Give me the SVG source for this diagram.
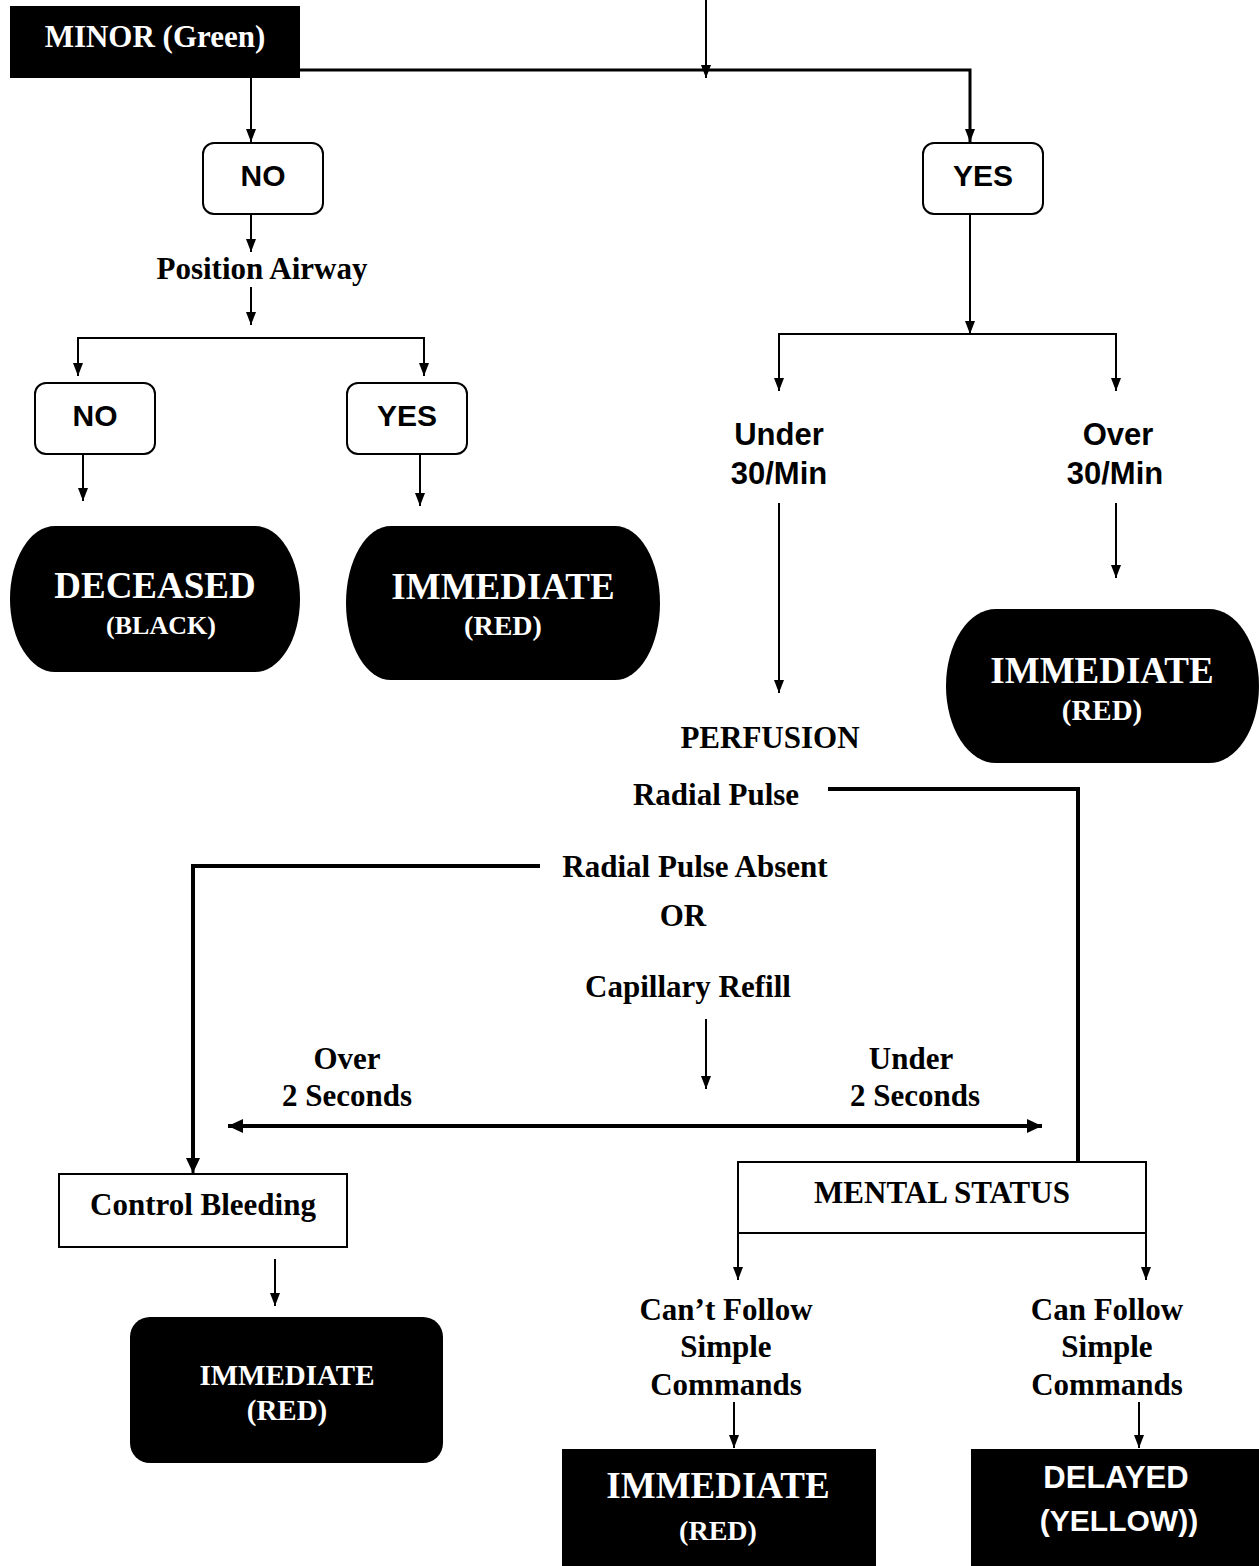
<svg xmlns="http://www.w3.org/2000/svg" width="1259" height="1566" viewBox="0 0 1259 1566">
<style>
.serif{font-family:"Liberation Serif","Times New Roman",serif;font-weight:bold;text-anchor:middle}
.sans{font-family:"Liberation Sans",Arial,sans-serif;font-weight:bold;text-anchor:middle}
.w{fill:#fff}
.k{fill:#000}
.box{fill:#fff;stroke:#000;stroke-width:2}
.blk{fill:#000;stroke:none}
.ln{fill:none;stroke:#000;stroke-width:2}
.thick{fill:none;stroke:#000;stroke-width:4}
</style>
<defs>
<marker id="ah" markerUnits="userSpaceOnUse" viewBox="0 0 13 10" markerWidth="13" markerHeight="10" refX="13" refY="5" orient="auto">
<path d="M0,0 L13,5 L0,10 Z" fill="#000"/>
</marker>
<marker id="ahb" markerUnits="userSpaceOnUse" viewBox="0 0 15 14" markerWidth="15" markerHeight="14" refX="15" refY="7" orient="auto-start-reverse">
<path d="M0,0 L15,7 L0,14 Z" fill="#000"/>
</marker>
</defs>
<rect width="1259" height="1566" fill="#fff"/>

<g id="connectors">
<line class="ln" x1="706" y1="0" x2="706" y2="78" marker-end="url(#ah)"/>
<polyline class="ln" points="300,70 970,70 970,142" style="stroke-width:3" marker-end="url(#ah)"/>
<line class="ln" x1="251" y1="78" x2="251" y2="142" marker-end="url(#ah)"/>
<line class="ln" x1="251" y1="214" x2="251" y2="252" marker-end="url(#ah)"/>
<line class="ln" x1="251" y1="287" x2="251" y2="325" marker-end="url(#ah)"/>
<polyline class="ln" points="78,376 78,338 424,338 424,376" marker-end="url(#ah)"/>
<line class="ln" x1="78" y1="338" x2="78" y2="376" marker-end="url(#ah)"/>
<line class="ln" x1="83" y1="455" x2="83" y2="501" marker-end="url(#ah)"/>
<line class="ln" x1="420" y1="455" x2="420" y2="506" marker-end="url(#ah)"/>
<line class="ln" x1="970" y1="214" x2="970" y2="334" marker-end="url(#ah)"/>
<polyline class="ln" points="779,391 779,334 1116,334 1116,391" marker-end="url(#ah)"/>
<line class="ln" x1="779" y1="334" x2="779" y2="391" marker-end="url(#ah)"/>
<line class="ln" x1="779" y1="503" x2="779" y2="693" marker-end="url(#ah)"/>
<line class="ln" x1="1116" y1="503" x2="1116" y2="578" marker-end="url(#ah)"/>
<polyline class="thick" points="828,789 1078,789 1078,1162"/>
<polyline class="thick" points="540,866 193,866 193,1160"/>
<line class="ln" x1="193" y1="1158" x2="193" y2="1173" style="stroke-width:3" marker-end="url(#ahb)"/>
<line class="ln" x1="706" y1="1019" x2="706" y2="1089" marker-end="url(#ah)"/>
<line class="ln" x1="228" y1="1126" x2="1042" y2="1126" style="stroke-width:4" marker-start="url(#ahb)" marker-end="url(#ahb)"/>
<line class="ln" x1="275" y1="1259" x2="275" y2="1306" marker-end="url(#ah)"/>
<line class="ln" x1="738" y1="1233" x2="738" y2="1280" marker-end="url(#ah)"/>
<line class="ln" x1="1146" y1="1233" x2="1146" y2="1280" marker-end="url(#ah)"/>
<line class="ln" x1="734" y1="1402" x2="734" y2="1448" marker-end="url(#ah)"/>
<line class="ln" x1="1139" y1="1402" x2="1139" y2="1448" marker-end="url(#ah)"/>
</g>

<g id="minor">
<rect class="blk" x="10" y="6" width="290" height="72"/>
<text class="serif w" x="155" y="47" font-size="31">MINOR (Green)</text>
</g>

<g id="no1">
<rect class="box" x="203" y="143" width="120" height="71" rx="11"/>
<text class="sans k" x="263" y="186" font-size="30">NO</text>
</g>
<g id="yes1">
<rect class="box" x="923" y="143" width="120" height="71" rx="11"/>
<text class="sans k" x="983" y="186" font-size="30">YES</text>
</g>

<g id="position-airway">
<text class="serif k" x="262" y="279" font-size="31">Position Airway</text>
</g>

<g id="no2">
<rect class="box" x="35" y="383" width="120" height="71" rx="11"/>
<text class="sans k" x="95" y="426" font-size="30">NO</text>
</g>
<g id="yes2">
<rect class="box" x="347" y="383" width="120" height="71" rx="11"/>
<text class="sans k" x="407" y="426" font-size="30">YES</text>
</g>

<g id="deceased">
<path class="blk" d="M55,526 H255 A45,73 0 0 1 255,672 H55 A45,73 0 0 1 55,526 Z"/>
<text class="serif w" x="155" y="598" font-size="37">DECEASED</text>
<text class="serif w" x="161" y="634" font-size="26">(BLACK)</text>
</g>

<g id="immediate1">
<path class="blk" d="M391,526 H615 A45,77 0 0 1 615,680 H391 A45,77 0 0 1 391,526 Z"/>
<text class="serif w" x="503" y="599" font-size="37">IMMEDIATE</text>
<text class="serif w" x="503" y="635" font-size="28">(RED)</text>
</g>

<g id="under30">
<text class="sans k" x="779" y="445" font-size="31">Under</text>
<text class="sans k" x="779" y="484" font-size="31">30/Min</text>
</g>
<g id="over30">
<text class="sans k" x="1118" y="445" font-size="31">Over</text>
<text class="sans k" x="1115" y="484" font-size="31">30/Min</text>
</g>

<g id="immediate2">
<path class="blk" d="M996,609 H1209 A50,77 0 0 1 1209,763 H996 A50,77 0 0 1 996,609 Z"/>
<text class="serif w" x="1102" y="683" font-size="37">IMMEDIATE</text>
<text class="serif w" x="1102" y="720" font-size="29">(RED)</text>
</g>

<g id="perfusion">
<text class="serif k" x="770" y="748" font-size="31">PERFUSION</text>
<text class="serif k" x="716" y="805" font-size="31">Radial Pulse</text>
<text class="serif k" x="695" y="877" font-size="31">Radial Pulse Absent</text>
<text class="serif k" x="683" y="926" font-size="31">OR</text>
<text class="serif k" x="688" y="997" font-size="31">Capillary Refill</text>
</g>

<g id="over2">
<text class="serif k" x="347" y="1069" font-size="31">Over</text>
<text class="serif k" x="347" y="1106" font-size="31">2 Seconds</text>
</g>
<g id="under2">
<text class="serif k" x="911" y="1069" font-size="31">Under</text>
<text class="serif k" x="915" y="1106" font-size="31">2 Seconds</text>
</g>

<g id="control-bleeding">
<rect class="box" x="59" y="1174" width="288" height="73"/>
<text class="serif k" x="203" y="1215" font-size="31">Control Bleeding</text>
</g>

<g id="immediate3">
<rect class="blk" x="130" y="1317" width="313" height="146" rx="20"/>
<text class="serif w" x="287" y="1385" font-size="29">IMMEDIATE</text>
<text class="serif w" x="287" y="1420" font-size="29">(RED)</text>
</g>

<g id="mental-status">
<rect class="box" x="738" y="1162" width="408" height="71"/>
<text class="serif k" x="942" y="1203" font-size="31">MENTAL STATUS</text>
</g>

<g id="cant-follow">
<text class="serif k" x="726" y="1320" font-size="31">Can’t Follow</text>
<text class="serif k" x="726" y="1357" font-size="31">Simple</text>
<text class="serif k" x="726" y="1395" font-size="31">Commands</text>
</g>
<g id="can-follow">
<text class="serif k" x="1107" y="1320" font-size="31">Can Follow</text>
<text class="serif k" x="1107" y="1357" font-size="31">Simple</text>
<text class="serif k" x="1107" y="1395" font-size="31">Commands</text>
</g>

<g id="immediate4">
<rect class="blk" x="562" y="1449" width="314" height="117"/>
<text class="serif w" x="718" y="1498" font-size="37">IMMEDIATE</text>
<text class="serif w" x="718" y="1540" font-size="28">(RED)</text>
</g>

<g id="delayed">
<rect class="blk" x="971" y="1449" width="288" height="117"/>
<text class="sans w" x="1116" y="1488" font-size="31">DELAYED</text>
<text class="sans w" x="1119" y="1531" font-size="30">(YELLOW))</text>
</g>
</svg>
